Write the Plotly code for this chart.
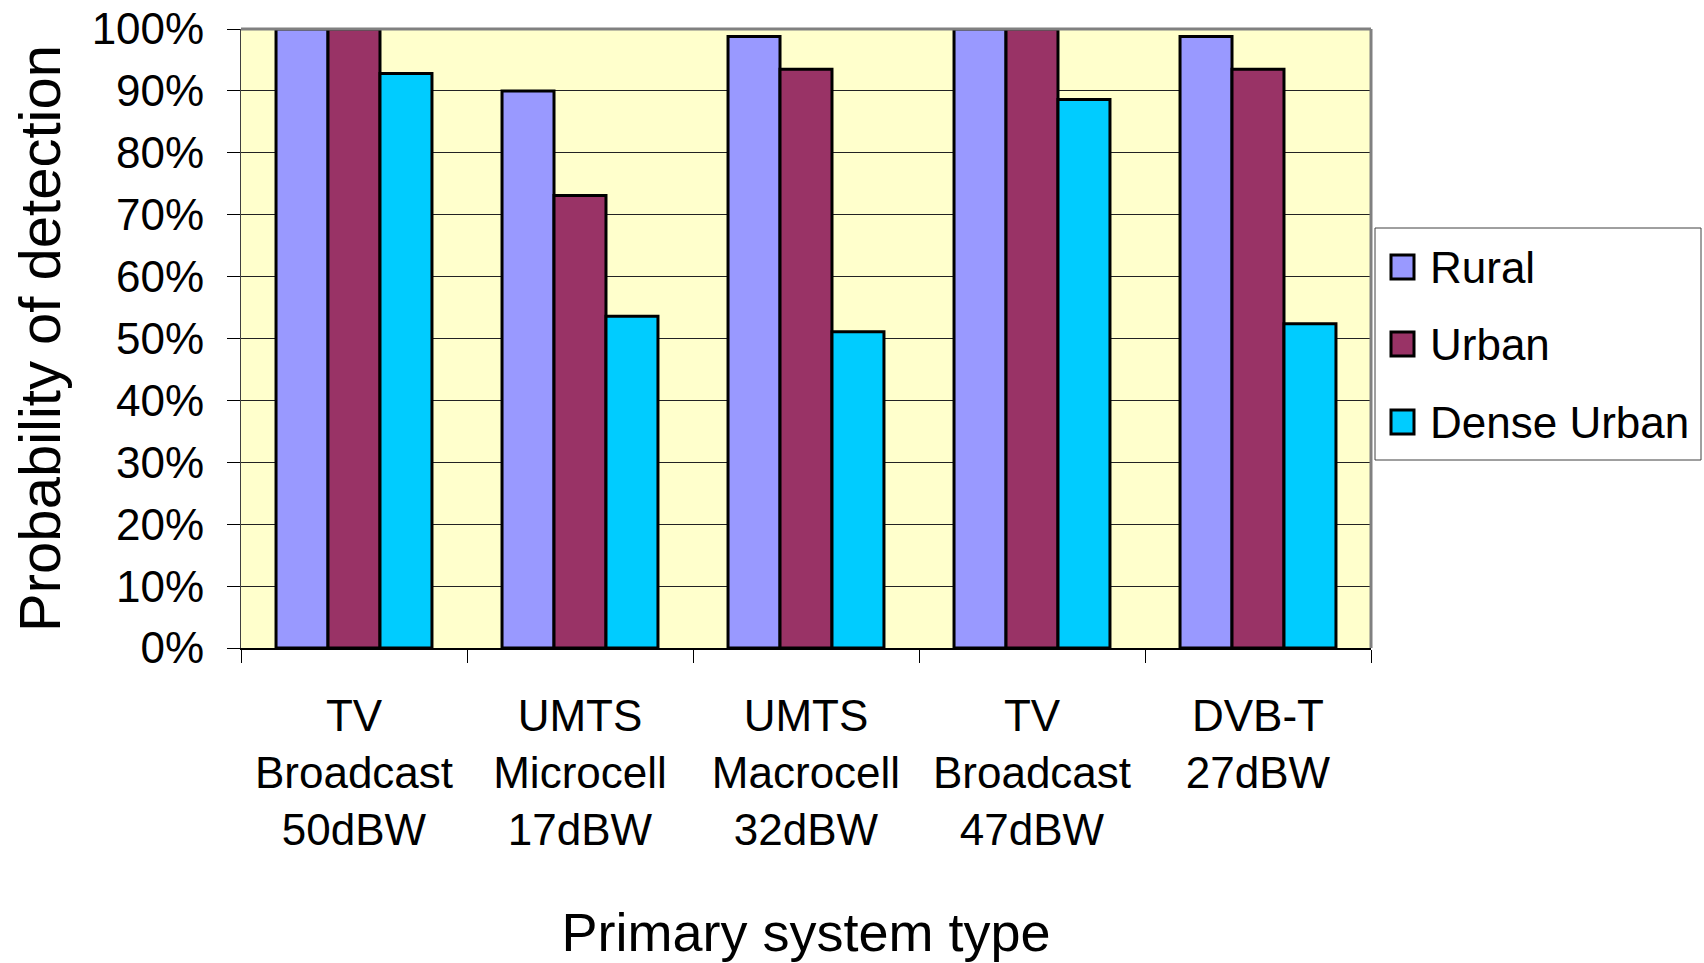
import plotly.graph_objects as go

# Detection probability per primary system type and environment
categories = [
    "TV<br>Broadcast<br>50dBW",
    "UMTS<br>Microcell<br>17dBW",
    "UMTS<br>Macrocell<br>32dBW",
    "TV<br>Broadcast<br>47dBW",
    "DVB-T<br>27dBW",
]
rural = [1.00, 0.90, 0.988, 1.00, 0.988]
urban = [1.00, 0.731, 0.935, 1.00, 0.935]
dense_urban = [0.928, 0.536, 0.511, 0.886, 0.524]

series_names = ["Rural", "Urban", "Dense Urban"]
series_colors = ["#9999FF", "#993366", "#00CCFF"]
y_ticks = [i / 10 for i in range(11)]

FONT = "Liberation Sans, Arial, sans-serif"

fig = go.Figure()
for name, vals, col in zip(series_names, [rural, urban, dense_urban], series_colors):
    fig.add_trace(go.Bar(
        x=categories, y=vals, name=name,
        marker=dict(color=col, line=dict(color="black", width=3)),
        showlegend=False,
    ))

W, H = 1704, 963
L, R, T, B = 241, 333, 29, 315

fig.update_layout(
    width=W, height=H,
    margin=dict(l=L, r=R, t=T, b=B, pad=0, autoexpand=False),
    paper_bgcolor="white",
    plot_bgcolor="#FFFFCC",
    barmode="group",
    bargap=0.31,
    bargroupgap=0,
    font=dict(family=FONT, color="black", size=44),
    xaxis=dict(
        automargin=False,
        tickson="boundaries",
        ticks="outside", ticklen=13, tickwidth=1, tickcolor="black",
        showline=True, linecolor="black", linewidth=2,
        showgrid=False, zeroline=False,
        tickfont=dict(size=44),
        ticklabelstandoff=28,
        title=dict(text="Primary system type", font=dict(size=54), standoff=60),
    ),
    yaxis=dict(
        automargin=False,
        range=[0, 1],
        tickvals=y_ticks,
        tickformat=".0%",
        ticks="outside", ticklen=13, tickwidth=1, tickcolor="black",
        showline=True, linecolor="#404040", linewidth=1,
        showgrid=True, gridcolor="#222222", gridwidth=1,
        zeroline=False,
        tickfont=dict(size=44),
        ticklabelstandoff=14,
        title=dict(text="Probability of detection", font=dict(size=58), standoff=12),
    ),
)

# Plot-area frame: gray top and right edges
fig.add_shape(type="line", xref="paper", yref="paper", x0=0, x1=1, y0=1, y1=1,
              line=dict(color="#808080", width=3))
fig.add_shape(type="line", xref="paper", yref="paper", x0=1, x1=1, y0=0, y1=1,
              line=dict(color="#808080", width=3))

# Legend box with swatches
pw = W - L - R
ph = H - T - B
def px_to_paper_x(px):
    return (px - L) / pw
def px_to_paper_y(py):
    return (H - B - py) / ph

lx0, lx1, ly0, ly1 = 1375, 1701, 228, 460
fig.add_shape(type="rect", xref="paper", yref="paper",
              x0=px_to_paper_x(lx0), x1=px_to_paper_x(lx1),
              y0=px_to_paper_y(ly1), y1=px_to_paper_y(ly0),
              line=dict(color="#404040", width=1), fillcolor="white")
item_y = [267, 344, 422]
for name, col, cy in zip(series_names, series_colors, item_y):
    fig.add_shape(type="rect", xref="paper", yref="paper",
                  x0=px_to_paper_x(1391), x1=px_to_paper_x(1414),
                  y0=px_to_paper_y(cy + 12), y1=px_to_paper_y(cy - 12),
                  line=dict(color="black", width=3), fillcolor=col)
    fig.add_annotation(xref="paper", yref="paper",
                       x=px_to_paper_x(1428), y=px_to_paper_y(cy),
                       text=name, showarrow=False, xanchor="left", yanchor="middle",
                       font=dict(size=44, family=FONT, color="black"))

fig.write_html("out.html")
